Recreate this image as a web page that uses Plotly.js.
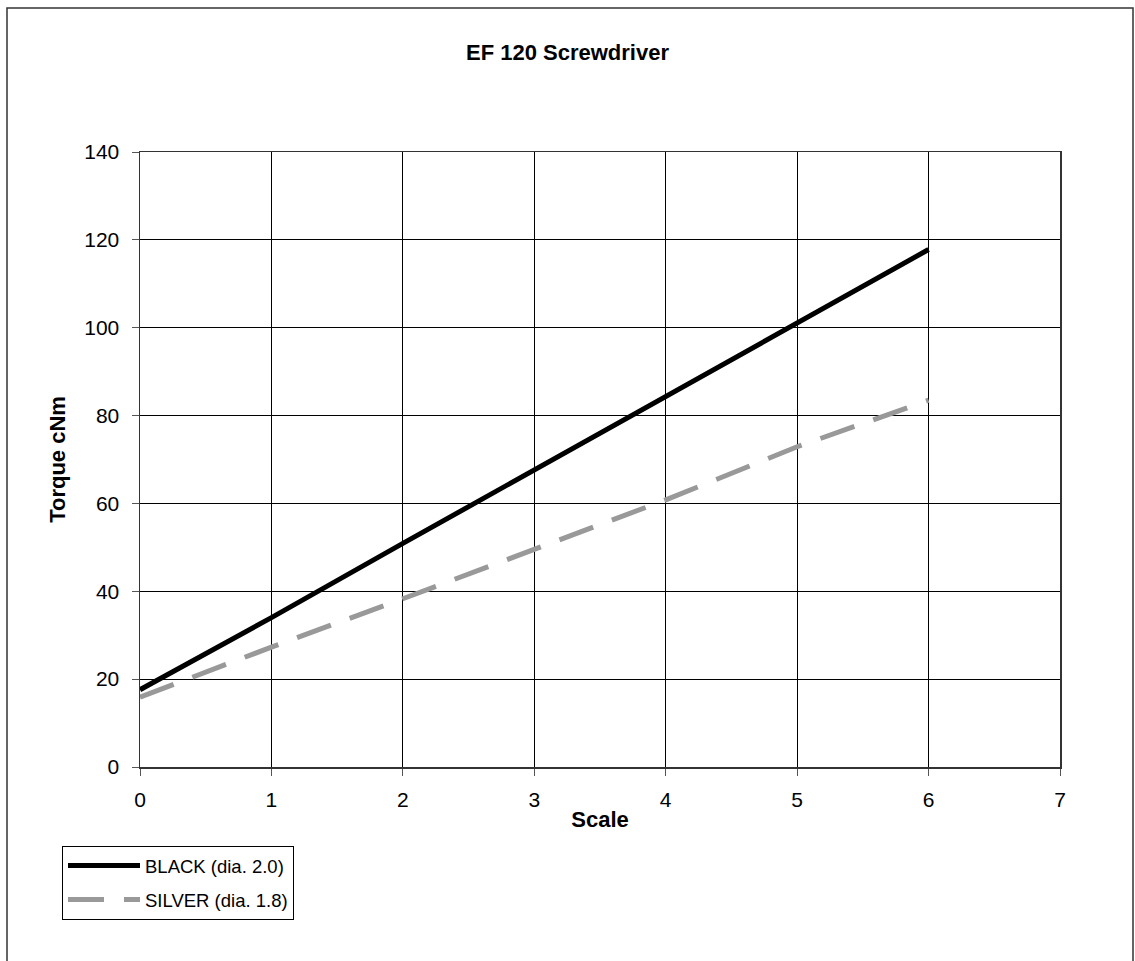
<!DOCTYPE html>
<html>
<head>
<meta charset="utf-8">
<script src="https://cdn.plot.ly/plotly-3.0.1.min.js"></script>
<style>html,body{margin:0;padding:0;background:#fff}#chart{width:1135px;height:961px}</style>
</head>
<body>
<div id="chart"></div>
<script>
const scale = [0, 1, 2, 3, 4, 5, 6];
const blackTorque = [17.6, 34.0, 50.9, 67.6, 84.3, 101.0, 117.8];
const silverTorque = [15.9, 27.3, 38.3, 49.4, 60.8, 72.9, 83.5];
const seriesNames = ['BLACK (dia. 2.0)', 'SILVER (dia. 1.8)'];
const xTicks = [0, 1, 2, 3, 4, 5, 6, 7];
const yTicks = [0, 20, 40, 60, 80, 100, 120, 140];

const font = 'Arial, "Liberation Sans", sans-serif';
const W = 1135, H = 961;
const L = 140, R = 1060, T = 152, B = 767;
const pw = R - L, ph = B - T;
const px = v => (v - L) / pw;
const py = v => (B - v) / ph;

const traces = [
  {x: scale, y: blackTorque, name: seriesNames[0], mode: 'lines', legendgroup: 'a',
   line: {color: '#000000', width: 5}},
  {x: scale, y: silverTorque, name: seriesNames[1], mode: 'lines', legendgroup: 'b',
   line: {color: '#999999', width: 5, dash: '36px,20px'}}
];

const layout = {
  width: W, height: H,
  paper_bgcolor: '#ffffff', plot_bgcolor: '#ffffff',
  margin: {l: L, r: W - R, t: T, b: H - B, pad: 0},
  font: {family: font, size: 21, color: '#000'},
  title: {text: '<b>EF 120 Screwdriver</b>', font: {family: font, size: 22, color: '#000'},
          x: 0.5, xanchor: 'center', y: 1 - 52 / H, yanchor: 'middle', yref: 'container'},
  xaxis: {range: [0, 7], tickvals: xTicks, ticktext: xTicks.map(String),
          showgrid: true, gridcolor: '#000', gridwidth: 1, zeroline: false,
          showline: true, linecolor: '#333', linewidth: 1.5, mirror: true,
          ticks: 'outside', ticklen: 7, tickcolor: '#555', tickwidth: 1,
          ticklabelstandoff: 6,
          tickfont: {family: font, size: 21}, fixedrange: true,
          title: {text: '<b>Scale</b>', font: {family: font, size: 22}, standoff: 2}},
  yaxis: {range: [0, 140], tickvals: yTicks, ticktext: yTicks.map(String),
          showgrid: true, gridcolor: '#000', gridwidth: 1, zeroline: false,
          showline: true, linecolor: '#333', linewidth: 1.5, mirror: true,
          ticks: 'outside', ticklen: 7, tickcolor: '#555', tickwidth: 1,
          ticklabelstandoff: 8,
          tickfont: {family: font, size: 21}, fixedrange: true,
          title: {text: '<b>Torque cNm</b>', font: {family: font, size: 22}, standoff: 12}},
  showlegend: true,
  legend: {x: px(62), y: py(846), xanchor: 'left', yanchor: 'top',
           bordercolor: '#000', borderwidth: 1, bgcolor: '#fff',
           font: {family: font, size: 18.5, color: '#000'}, itemwidth: 72,
           traceorder: 'grouped', tracegroupgap: 7},
  shapes: [
    {type: 'rect', xref: 'paper', yref: 'paper',
     x0: px(7), x1: px(1133), y0: py(975), y1: py(8),
     line: {color: '#333', width: 1.5}, fillcolor: 'rgba(0,0,0,0)', layer: 'below'}
  ]
};

Plotly.newPlot('chart', traces, layout, {displayModeBar: false, staticPlot: true});
</script>
</body>
</html>
